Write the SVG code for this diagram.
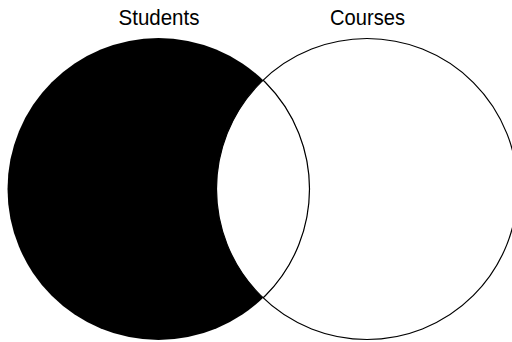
<svg xmlns="http://www.w3.org/2000/svg" width="512" height="342" viewBox="0 0 512 342">
<style>
.lbl{font-family:"Liberation Sans Narrow","Liberation Sans",Arial,sans-serif;font-size:22px;fill:#000;text-anchor:middle}
.ring{fill:none;stroke:#000;stroke-width:1.2}
</style>
<defs>
<clipPath id="inR"><circle cx="367" cy="189" r="150.5"/></clipPath>
</defs>
<rect width="512" height="342" fill="#fff"/>
<g id="students">
<circle cx="158.5" cy="189" r="151" fill="#000"/>
<circle cx="158.5" cy="189" r="151" fill="#fff" clip-path="url(#inR)"/>
<circle class="ring" cx="158.5" cy="189" r="151" clip-path="url(#inR)"/>
<text class="lbl" x="159" y="25" textLength="81" lengthAdjust="spacingAndGlyphs">Students</text>
</g>
<g id="courses">
<circle class="ring" cx="367" cy="189" r="150.5"/>
<text class="lbl" x="367.5" y="25" textLength="75" lengthAdjust="spacingAndGlyphs">Courses</text>
</g>
<g id="connectors"/>
</svg>
